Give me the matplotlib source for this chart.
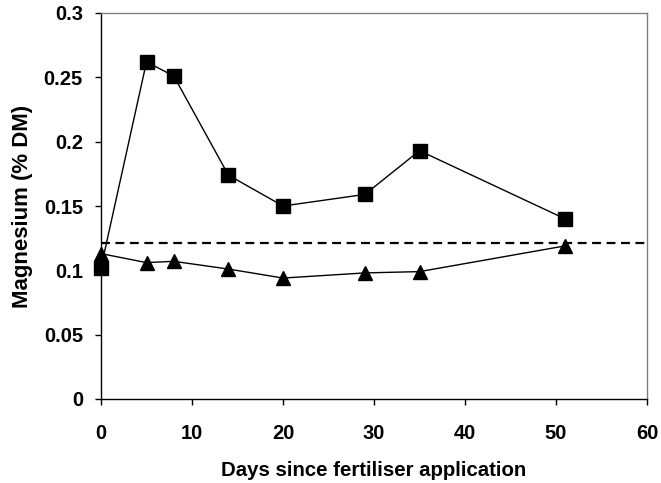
import matplotlib
matplotlib.use('Agg')
import matplotlib.pyplot as plt

plt.rcParams['font.family'] = ['Liberation Sans', 'DejaVu Sans']
plt.rcParams['font.weight'] = 'bold'

# Данные
days = [0, 5, 8, 14, 20, 29, 35, 51]
mg_square = [0.102, 0.262, 0.251, 0.174, 0.150, 0.159, 0.193, 0.140]
mg_triangle = [0.113, 0.106, 0.107, 0.101, 0.094, 0.098, 0.099, 0.119]
threshold = 0.121

fig = plt.figure(figsize=(6.61, 4.83), dpi=100)
ax = fig.add_axes([101/661, 1-399/483, 546/661, 386/483])

ax.plot(days, mg_square, color='k', lw=1, marker='s', ms=9.5, zorder=3)
ax.plot(days, mg_triangle, color='k', lw=1, marker='^', ms=10.5, zorder=4)
ax.axhline(threshold, color='k', lw=1.6, ls=(0, (4, 2.5)), zorder=2)

ax.set_xlim(0, 60)
ax.set_ylim(0, 0.3)
ax.set_xticks(range(0, 61, 10))
ax.set_yticks([0, 0.05, 0.1, 0.15, 0.2, 0.25, 0.3])
ax.set_yticklabels(['0', '0.05', '0.1', '0.15', '0.2', '0.25', '0.3'])
ax.tick_params(labelsize=14.5, direction='out', length=4, width=1)
ax.tick_params(axis='x', pad=14)
ax.tick_params(axis='y', pad=9)
ax.set_xlabel('Days since fertiliser application', fontsize=14.7, fontweight='bold', labelpad=13)
ax.set_ylabel('Magnesium (% DM)', fontsize=16, fontweight='bold', labelpad=8)

for s in ['top', 'right']:
    ax.spines[s].set_color('#808080')
for sp in ax.spines.values():
    sp.set_linewidth(1)
for m in ax.lines:
    m.set_clip_on(False)

fig.savefig('out.png', dpi=100)
